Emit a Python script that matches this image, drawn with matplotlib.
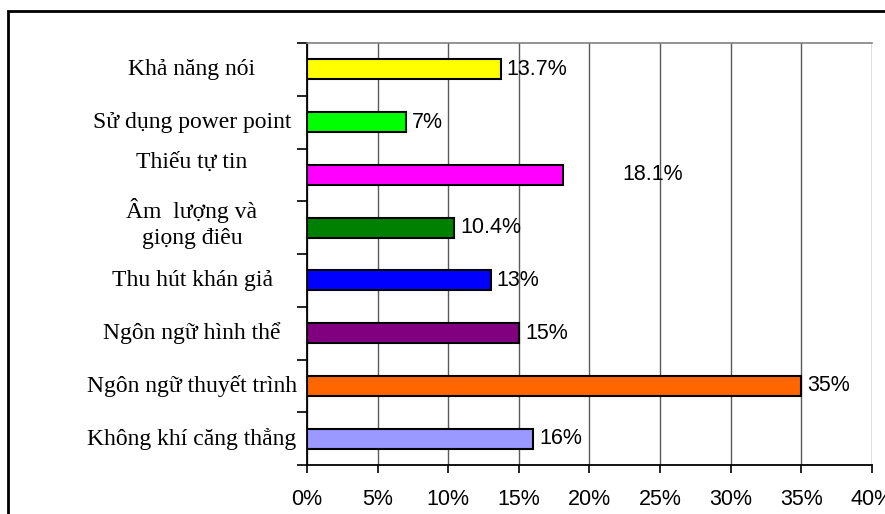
import matplotlib.pyplot as plt
from matplotlib.patches import Rectangle
from matplotlib.transforms import blended_transform_factory, offset_copy
import numpy as np

# dữ liệu (từ trên xuống)
categories = ['Khả năng nói', 'Sử dụng power point', 'Thiếu tự tin',
              'Âm  lượng và\ngiọng điêu', 'Thu hút khán giả',
              'Ngôn ngữ hình thể', 'Ngôn ngữ thuyết trình', 'Không khí căng thẳng']
values = [13.7, 7, 18.1, 10.4, 13, 15, 35, 16]
value_labels = ['13.7%', '7%', '18.1%', '10.4%', '13%', '15%', '35%', '16%']
colors = ['#FFFF00', '#00FF00', '#FF00FF', '#008000', '#0000FF',
          '#800080', '#FF6600', '#9999FF']
xticks = [0, 5, 10, 15, 20, 25, 30, 35, 40]

fig = plt.figure(figsize=(8.85, 5.14), dpi=100)
ax = fig.add_axes([0.3469, 0.0953, 0.6384, 0.8210])

y = np.arange(len(categories))
ax.barh(y, values, height=0.38, color=colors, edgecolor='black', linewidth=1.5, zorder=3)

ax.set_xlim(0, 40)
ax.set_ylim(len(categories) - 0.5, -0.5)

# lưới dọc
ax.set_xticks(xticks)
ax.set_xticklabels([f'{t}%' for t in xticks], fontsize=15.5, family='Liberation Sans')
ax.grid(axis='x', color='#5a5a5a', linewidth=1.0, zorder=0)
ax.tick_params(axis='x', direction='out', length=6, width=1.2, pad=11)

# vạch trục y tại ranh giới các nhóm
ax.set_yticks(np.arange(len(categories) + 1) - 0.5)
ax.set_yticklabels([])
ax.tick_params(axis='y', direction='out', length=7, width=1.2)

ax.spines['right'].set_visible(False)
ax.spines['top'].set_color('#808080')
ax.spines['top'].set_linewidth(1.2)
ax.spines['left'].set_linewidth(1.3)
ax.spines['bottom'].set_linewidth(1.3)

# nhãn danh mục
trans = blended_transform_factory(fig.transFigure, ax.transData)
for i, cat in enumerate(categories):
    dy = 0
    if cat == 'Thiếu tự tin':
        dy = 13
    elif '\n' in cat:
        dy = 4
    t = offset_copy(trans, fig=fig, x=0, y=dy, units='dots')
    ax.text(192 / 885, i, cat, transform=t, ha='center', va='center',
            fontsize=17, family='Liberation Serif', linespacing=1.3)

# nhãn giá trị
for i, (v, lab) in enumerate(zip(values, value_labels)):
    dx = 60 if lab == '18.1%' else 6
    t = offset_copy(ax.transData, fig=fig, x=dx, y=0, units='dots')
    ax.text(v, i, lab, transform=t, ha='left', va='center',
            fontsize=15.5, family='Liberation Sans', zorder=4)

# khung ngoài
fig.patches.append(Rectangle((8 / 885, -0.1), 1.2, (514 - 11) / 514 + 0.1,
                             transform=fig.transFigure, fill=False,
                             edgecolor='black', linewidth=2))

fig.savefig('out.png', dpi=100)
